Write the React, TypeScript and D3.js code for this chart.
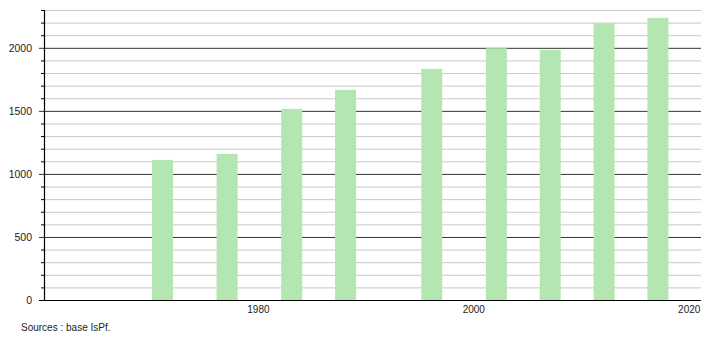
import React from "react";
import * as d3 from "d3";

const years = [1971, 1977, 1983, 1988, 1996, 2002, 2007, 2012, 2017];
const population = [1111, 1159, 1516, 1667, 1833, 1997, 1984, 2196, 2238];
const yTicks = [0, 500, 1000, 1500, 2000];
const xTicks = [1980, 2000, 2020];
const sourceText = "Sources : base IsPf.";

export default function App() {
  const W = 710, H = 340;
  const left = 44, right = 701, top = 10, bottom = 300;
  const x = d3.scaleLinear().domain([1960, 2021]).range([left, right]);
  const y = d3.scaleLinear().domain([0, 2300]).range([bottom, top]);
  const minor = d3.range(100, 2301, 100).filter((v) => v % 500 !== 0);
  const barW = 21;
  const font = "'Liberation Sans', Arial, sans-serif";
  return (
    <svg width={W} height={H} style={{ position: "absolute", left: 0, top: 0 }}>
      <rect x={0} y={0} width={W} height={H} fill="#fff" />
      {minor.map((v) => (
        <g key={"m" + v}>
          <line x1={left} x2={right} y1={y(v) + 0.5} y2={y(v) + 0.5} stroke="#c8c8c8" strokeWidth={1} />
          <line x1={left - 3} x2={left} y1={y(v) + 0.5} y2={y(v) + 0.5} stroke="#000" strokeWidth={1} />
        </g>
      ))}
      {yTicks.filter((v) => v > 0).map((v) => (
        <line key={"M" + v} x1={left - 5} x2={right} y1={y(v) + 0.5} y2={y(v) + 0.5} stroke="#333" strokeWidth={1} />
      ))}
      {years.map((yr, i) => (
        <rect
          key={yr}
          x={x(yr) - barW / 2}
          y={y(population[i])}
          width={barW}
          height={bottom - y(population[i])}
          fill="#b3e6b1"
        />
      ))}
      <line x1={left + 0.5} x2={left + 0.5} y1={top} y2={bottom} stroke="#000" strokeWidth={1.2} />
      <line x1={left - 5} x2={right} y1={bottom + 0.5} y2={bottom + 0.5} stroke="#000" strokeWidth={1.2} />
      {yTicks.map((v) => (
        <text key={"t" + v} x={32} y={y(v) + 4} textAnchor="end" fontFamily={font} fontSize={10.5} fill="#222">
          {v}
        </text>
      ))}
      {xTicks.map((v) => (
        <text key={"x" + v} x={x(v) - 1} y={313} textAnchor="middle" fontFamily={font} fontSize={10} fill="#222">
          {v}
        </text>
      ))}
      <text x={21} y={331} fontFamily={font} fontSize={10} fill="#222">
        {sourceText}
      </text>
    </svg>
  );
}
